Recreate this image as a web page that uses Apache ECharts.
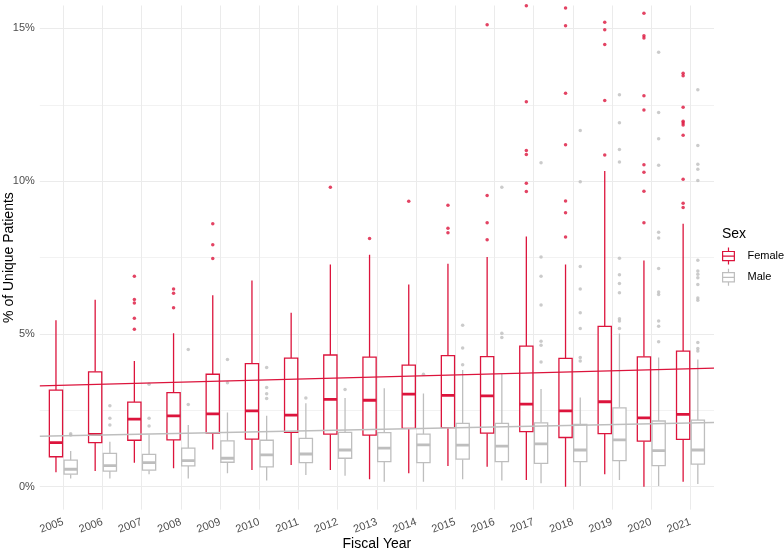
<!DOCTYPE html>
<html>
<head>
<meta charset="utf-8">
<script src="https://cdn.jsdelivr.net/npm/echarts@6/dist/echarts.min.js"></script>
<style>
html,body{margin:0;padding:0;background:#fff;}
#chart{width:784px;height:551px;}
</style>
</head>
<body>
<div id="chart"></div>
<script>
// ---------- DATA ----------
const years = ['2005','2006','2007','2008','2009','2010','2011','2012','2013','2014','2015','2016','2017','2018','2019','2020','2021'];

// [lower whisker, Q1, median, Q3, upper whisker] in %
const femaleBox = [
  [0.47, 0.98, 1.44, 3.16, 5.45],
  [0.51, 1.44, 1.71, 3.76, 6.12],
  [0.78, 1.52, 2.21, 2.77, 4.11],
  [0.60, 1.53, 2.32, 3.08, 5.02],
  [1.22, 1.75, 2.38, 3.68, 6.27],
  [0.55, 1.56, 2.48, 4.03, 6.75],
  [0.71, 1.78, 2.34, 4.21, 5.69],
  [0.55, 1.72, 2.86, 4.31, 7.27],
  [0.24, 1.69, 2.83, 4.24, 7.59],
  [0.44, 1.91, 3.03, 3.98, 6.62],
  [0.68, 1.93, 2.99, 4.29, 7.30],
  [0.65, 1.75, 2.97, 4.26, 7.52],
  [0.22, 1.80, 2.70, 4.60, 8.19],
  [0.00, 1.61, 2.48, 4.20, 7.27],
  [0.41, 1.74, 2.78, 5.25, 10.33],
  [0.00, 1.49, 2.25, 4.25, 7.40],
  [0.16, 1.55, 2.37, 4.44, 8.61]
];
const maleBox = [
  [0.27, 0.41, 0.57, 0.87, 1.17],
  [0.27, 0.51, 0.69, 1.09, 1.47],
  [0.41, 0.54, 0.79, 1.06, 1.71],
  [0.27, 0.68, 0.85, 1.26, 2.02],
  [0.44, 0.80, 0.93, 1.50, 2.43],
  [0.20, 0.65, 1.04, 1.52, 2.32],
  [0.38, 0.79, 1.07, 1.58, 2.73],
  [0.36, 0.93, 1.20, 1.78, 2.90],
  [0.16, 0.82, 1.26, 1.77, 3.22],
  [0.16, 0.79, 1.37, 1.72, 3.05],
  [0.24, 0.90, 1.36, 2.07, 3.82],
  [0.20, 0.82, 1.33, 2.07, 3.69],
  [0.11, 0.76, 1.40, 2.09, 3.20],
  [0.02, 0.82, 1.20, 2.04, 2.92],
  [0.22, 0.85, 1.53, 2.58, 5.01],
  [0.02, 0.69, 1.18, 2.15, 4.23],
  [0.09, 0.74, 1.20, 2.18, 4.16]
];

// outliers per year (%)
const femaleOutliers = [
  [], [], [6.89, 6.13, 6.01, 5.51, 5.15], [6.47, 6.33, 5.86], [8.61, 7.92, 7.47], [], [],
  [9.80], [8.12], [9.34], [9.21, 8.46, 8.31], [15.12, 9.53, 8.64, 8.08],
  [15.74, 12.60, 11.00, 10.87, 9.93, 9.66],
  [15.67, 15.09, 12.88, 11.19, 9.35, 8.97, 8.17],
  [15.20, 14.96, 14.47, 12.64, 10.86],
  [15.50, 14.76, 14.69, 12.80, 12.33, 10.54, 10.29, 9.67, 8.64],
  [13.53, 13.45, 12.42, 11.96, 11.90, 11.84, 11.50, 10.06, 9.28, 9.14]
];
const maleOutliers = [
  [1.69, 1.73], [2.65, 2.24, 2.02], [3.35, 2.24, 1.99], [4.49, 2.69], [4.16, 3.40],
  [3.90, 3.25, 3.04, 2.89], [2.90], [3.18], [], [3.68], [5.28, 4.54, 3.99], [9.80, 5.02, 4.88],
  [10.60, 7.52, 6.89, 5.95, 4.76, 4.63, 4.08],
  [11.66, 9.98, 7.21, 6.47, 5.69, 5.18, 4.23, 4.11],
  [12.83, 11.91, 11.04, 10.63, 7.48, 6.94, 6.65, 6.35, 5.50, 5.42, 5.18],
  [14.22, 12.25, 11.39, 10.52, 8.33, 8.14, 7.14, 6.37, 6.29, 5.42, 5.25, 4.74],
  [12.99, 11.17, 10.55, 10.39, 10.02, 7.41, 7.06, 6.95, 6.84, 6.62, 6.18, 6.10, 4.72, 4.52, 4.44]
];

// linear trend (value at left and right edge of panel)
const trendX = [-0.6, 16.6];
const femaleTrend = [3.30, 3.88];
const maleTrend = [1.65, 2.10];

const yTickLabels = [0, 5, 10, 15];
const yGridValues = [0, 2.5, 5, 7.5, 10, 12.5, 15];

// ---------- STYLE ----------
const FEMALE = '#DC143C';
const MALE = '#BEBEBE';
const DODGE = 0.1875;
const BOX_W = 0.3375;
const FONT = '"Liberation Sans", Arial, Helvetica, sans-serif';

function boxData(arr) {
  return arr.map((b, i) => [i, b[0], b[1], b[2], b[3], b[4]]);
}
function outlierData(arr, off) {
  const out = [];
  arr.forEach((vals, i) => vals.forEach(v => out.push([i + off, v])));
  return out;
}
function renderBox(off, color) {
  return function (params, api) {
    const i = api.value(0);
    const lo = api.coord([i + off, api.value(1)]);
    const q1 = api.coord([i + off, api.value(2)]);
    const md = api.coord([i + off, api.value(3)]);
    const q3 = api.coord([i + off, api.value(4)]);
    const hi = api.coord([i + off, api.value(5)]);
    const w = api.size([BOX_W, 0])[0];
    const x = lo[0];
    const lw = 1.3;
    return {
      type: 'group',
      children: [
        { type: 'line', shape: { x1: x, y1: hi[1], x2: x, y2: q3[1] }, style: { stroke: color, lineWidth: lw } },
        { type: 'line', shape: { x1: x, y1: q1[1], x2: x, y2: lo[1] }, style: { stroke: color, lineWidth: lw } },
        { type: 'rect', shape: { x: x - w / 2, y: q3[1], width: w, height: q1[1] - q3[1] }, style: { fill: '#fff', stroke: color, lineWidth: lw } },
        { type: 'line', shape: { x1: x - w / 2, y1: md[1], x2: x + w / 2, y2: md[1] }, style: { stroke: color, lineWidth: 2.8 } }
      ]
    };
  };
}

const legendIcon = 'path://M10,0L10,6M1,6L19,6L19,20L1,20ZM1,13L19,13M10,20L10,26';

const chart = echarts.init(document.getElementById('chart'), null, { renderer: 'canvas' });
chart.setOption({
  animation: false,
  backgroundColor: '#fff',
  textStyle: { fontFamily: FONT },
  title: {
    text: 'Sex', left: 722, top: 227, padding: 0,
    textStyle: { fontSize: 14, fontWeight: 'normal', color: '#000', fontFamily: FONT }
  },
  legend: {
    orient: 'vertical', left: 722, top: 247, padding: 0,
    itemWidth: 14, itemHeight: 17, itemGap: 3,
    textStyle: { fontSize: 11, color: '#000', fontFamily: FONT, padding: [0, 0, 0, 7] },
    data: [
      { name: 'Female', icon: legendIcon, itemStyle: { color: '#fff', borderColor: FEMALE, borderWidth: 1.2 } },
      { name: 'Male', icon: legendIcon, itemStyle: { color: '#fff', borderColor: MALE, borderWidth: 1.2 } }
    ],
    selectedMode: false
  },
  grid: { left: 39.8, right: 70, top: 5.5, bottom: 41.4, containLabel: false, outerBoundsMode: 'none' },
  xAxis: {
    type: 'value', min: trendX[0], max: trendX[1],
    name: 'Fiscal Year', nameLocation: 'middle', nameGap: 28, nameMoveOverlap: false,
    nameTextStyle: { fontSize: 14, color: '#000', fontFamily: FONT },
    axisLine: { show: false },
    axisTick: { show: false, customValues: years.map((y, i) => i) },
    axisLabel: {
      customValues: years.map((y, i) => i),
      formatter: v => years[Math.round(v)],
      rotate: 20, margin: 12, fontSize: 11, color: '#4D4D4D', fontFamily: FONT
    },
    splitLine: { show: true, lineStyle: { color: '#EBEBEB', width: 1 } }
  },
  yAxis: {
    type: 'value', min: -0.75, max: 15.75,
    name: '% of Unique Patients', nameLocation: 'middle', nameGap: 24, nameRotate: 90, nameMoveOverlap: false,
    nameTextStyle: { fontSize: 14, color: '#000', fontFamily: FONT },
    axisLine: { show: false },
    axisTick: { show: false, customValues: yGridValues },
    axisLabel: {
      customValues: yTickLabels,
      formatter: v => v + '%', margin: 5, fontSize: 11, color: '#4D4D4D', fontFamily: FONT
    },
    splitLine: { show: true, lineStyle: { color: ['#EBEBEB', '#F2F2F2'], width: 1 } }
  },
  series: [
    {
      name: 'Female', type: 'custom', renderItem: renderBox(-DODGE, FEMALE),
      data: boxData(femaleBox), encode: { x: 0, y: [1, 2, 3, 4, 5] },
      itemStyle: { color: FEMALE }, z: 2, clip: true
    },
    {
      name: 'Male', type: 'custom', renderItem: renderBox(DODGE, MALE),
      data: boxData(maleBox), encode: { x: 0, y: [1, 2, 3, 4, 5] },
      itemStyle: { color: MALE }, z: 2, clip: true
    },
    {
      name: 'Female', type: 'scatter', data: outlierData(femaleOutliers, -DODGE),
      symbolSize: 3.5, itemStyle: { color: FEMALE }, z: 3, clip: true
    },
    {
      name: 'Male', type: 'scatter', data: outlierData(maleOutliers, DODGE),
      symbolSize: 3.5, itemStyle: { color: MALE }, z: 3, clip: true
    },
    {
      name: 'Female trend', type: 'line', showSymbol: false, symbol: 'none',
      data: trendX.map((x, k) => [x, femaleTrend[k]]),
      lineStyle: { color: FEMALE, width: 1.4 }, z: 4
    },
    {
      name: 'Male trend', type: 'line', showSymbol: false, symbol: 'none',
      data: trendX.map((x, k) => [x, maleTrend[k]]),
      lineStyle: { color: MALE, width: 1.4 }, z: 4
    }
  ]
});
</script>
</body>
</html>
